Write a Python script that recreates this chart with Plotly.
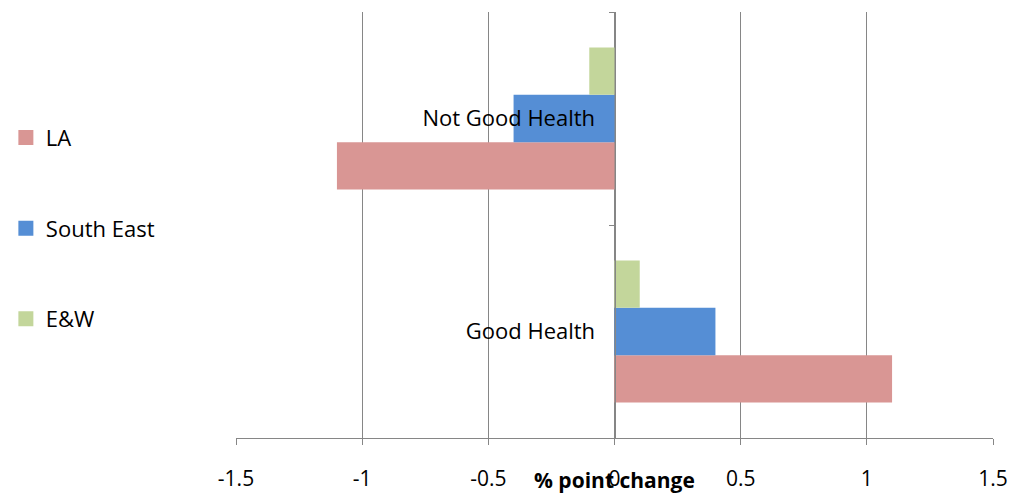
import plotly.graph_objects as go

categories = ["Good Health", "Not Good Health"]
series_names = ["LA", "South East", "E&W"]
la_values = [1.1, -1.1]
south_east_values = [0.4, -0.4]
ew_values = [0.1, -0.1]
x_tick_values = [-1.5, -1, -0.5, 0, 0.5, 1, 1.5]
x_tick_labels = ["-1.5", "-1", "-0.5", "0", "0.5", "1", "1.5"]

colors = {"LA": "#D99694", "South East": "#558ED5", "E&W": "#C3D69B"}
values = {"LA": la_values, "South East": south_east_values, "E&W": ew_values}

FONT = "'Open Sans', Lato, sans-serif"
GRID = "#868686"
FS = 22

fig = go.Figure()
for name in series_names:
    fig.add_trace(go.Bar(
        y=categories, x=values[name], name=name, orientation="h",
        marker=dict(color=colors[name], line=dict(width=0)),
        legendgroup=name, showlegend=False,
    ))
# legend entries with larger square swatches
for name in series_names:
    fig.add_trace(go.Scatter(
        x=[None], y=[None], mode="markers", name=name, legendgroup=name,
        marker=dict(symbol="square", size=15, color=colors[name]),
        showlegend=True,
    ))

fig.update_layout(
    width=1010, height=485,
    margin=dict(l=228, r=25, t=4, b=55, autoexpand=False),
    paper_bgcolor="white", plot_bgcolor="white",
    barmode="group", bargap=0.333, bargroupgap=0,
    font=dict(family=FONT, size=FS, color="black"),
    legend=dict(x=-0.304, xanchor="left", y=0.754, yanchor="top",
                tracegroupgap=59, font=dict(size=FS), bgcolor="rgba(0,0,0,0)"),
    xaxis=dict(range=[-1.5, 1.5], tickvals=x_tick_values, ticktext=x_tick_labels,
               showgrid=True, gridcolor=GRID, gridwidth=1, zeroline=False,
               showline=True, linecolor=GRID, linewidth=1,
               ticks="outside", ticklen=6, tickcolor=GRID,
               ticklabelstandoff=16, tickfont=dict(size=21)),
    yaxis=dict(anchor="free", position=0.5, showline=True, linecolor=GRID, linewidth=1,
               ticks="outside", ticklen=6, tickcolor=GRID, tickson="boundaries",
               showgrid=False, zeroline=False, ticklabelstandoff=15,
               tickfont=dict(size=FS)),
)

fig.add_annotation(text="<b>% point change</b>", xref="x", yref="paper",
                   x=0.0, y=0, yshift=-42, xanchor="center", yanchor="middle",
                   showarrow=False, font=dict(size=21, family=FONT))

fig.write_html("out.html")
